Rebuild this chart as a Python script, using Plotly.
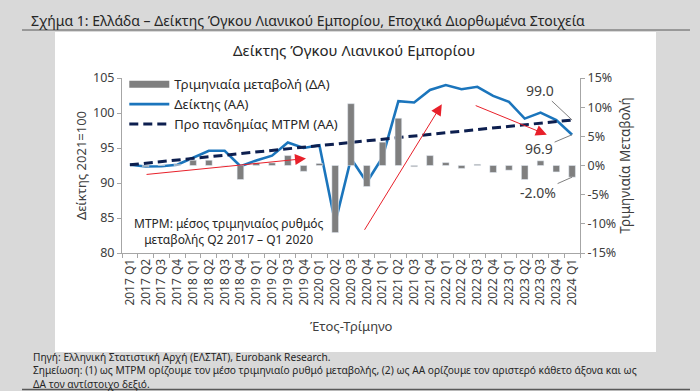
import plotly.graph_objects as go

quarters = ["2017 Q1", "2017 Q2", "2017 Q3", "2017 Q4",
            "2018 Q1", "2018 Q2", "2018 Q3", "2018 Q4",
            "2019 Q1", "2019 Q2", "2019 Q3", "2019 Q4",
            "2020 Q1", "2020 Q2", "2020 Q3", "2020 Q4",
            "2021 Q1", "2021 Q2", "2021 Q3", "2021 Q4",
            "2022 Q1", "2022 Q2", "2022 Q3", "2022 Q4",
            "2023 Q1", "2023 Q2", "2023 Q3", "2023 Q4",
            "2024 Q1"]

index_values = [92.6, 92.35, 92.4, 92.6, 93.6, 94.6, 94.6, 92.4,
                93.2, 93.9, 95.8, 95.0, 95.4, 84.3, 93.5, 90.1,
                93.7, 101.7, 101.5, 103.3, 104.0, 103.4, 103.75, 102.45,
                101.6, 99.2, 100.05, 99.0, 96.9]

qoq_change = [None, -0.2, 0.1, 0.2, 0.9, 0.9, 0.0, -2.4,
              0.45, 0.45, 1.7, -1.0, 0.35, -11.5, 10.6, -3.6,
              4.0, 8.1, -0.2, 1.7, 0.5, -0.5, 0.2, -1.2,
              -0.8, -2.4, 0.8, -1.1, -2.0]

trend_quarters = ["2017 Q1", "2024 Q1"]
trend_values = [92.6, 99.0]

left_ticks = [80, 85, 90, 95, 100, 105]
right_ticks = [-15, -10, -5, 0, 5, 10, 15]
right_tick_text = ["-15%", "-10%", "-5%", "0%", "5%", "10%", "15%"]

footer_lines = [
    "Πηγή: Ελληνική Στατιστική Αρχή (ΕΛΣΤΑΤ), Eurobank Research.",
    "Σημείωση: (1) ως ΜΤΡΜ ορίζουμε τον μέσο τριμηνιαίο ρυθμό μεταβολής, (2) ως ΑΑ ορίζουμε τον αριστερό κάθετο άξονα και ως",
    "ΔΑ τον αντίστοιχο δεξιό.",
]

FONT = "Noto Sans"
TXT = "#404040"
AXC = "#a6a6a6"

fig = go.Figure()

fig.add_trace(go.Bar(x=quarters, y=qoq_change, yaxis="y2", marker_color="#7f7f7f",
                     width=0.42, showlegend=False, name="Τριμηνιαία μεταβολή (ΔΑ)"))
fig.add_trace(go.Scatter(x=[None], y=[None], mode="lines", yaxis="y2",
                         line=dict(color="#7f7f7f", width=7),
                         name="Τριμηνιαία μεταβολή (ΔΑ)"))
fig.add_trace(go.Scatter(x=quarters, y=index_values, mode="lines",
                         line=dict(color="#1b75bc", width=2.6), name="Δείκτης (ΑΑ)"))
fig.add_trace(go.Scatter(x=trend_quarters, y=trend_values, mode="lines",
                         line=dict(color="#0d1f4f", width=3, dash="9px,5px"),
                         name="Προ πανδημίας ΜΤΡΜ (ΑΑ)"))

W, H = 700, 391
L, R, T, B = 122, 120, 78, 138
PW, PH = W - L - R, H - T - B


def px(x):
    return (x - L) / PW


def py(y):
    return (H - B - y) / PH


shapes = [
    dict(type="rect", xref="paper", yref="paper", x0=px(55), x1=px(656), y0=py(352), y1=py(32),
         fillcolor="white", line=dict(width=0), layer="below"),
    dict(type="line", xref="paper", yref="paper", x0=px(22), x1=px(690), y0=py(30), y1=py(30),
         line=dict(color="#595959", width=1)),
    dict(type="line", xref="paper", yref="paper", x0=px(22), x1=px(690), y0=py(389.5), y1=py(389.5),
         line=dict(color="#595959", width=1.5)),
]

annotations = [
    dict(text="Σχήμα 1: Ελλάδα – Δείκτης Όγκου Λιανικού Εμπορίου, Εποχικά Διορθωμένα Στοιχεία",
         xref="paper", yref="paper", x=px(29), y=py(20), xanchor="left", yanchor="middle",
         showarrow=False, font=dict(family=FONT, size=14, color="#262626")),
    dict(text="Δείκτης Όγκου Λιανικού Εμπορίου",
         xref="paper", yref="paper", x=px(354), y=py(50), xanchor="center", yanchor="middle",
         showarrow=False, font=dict(family=FONT, size=15, color="#262626")),
    dict(text="ΜΤΡΜ: μέσος τριμηνιαίος ρυθμός<br>μεταβολής Q2 2017 – Q1 2020",
         xref="paper", yref="paper", x=px(229), y=py(231), xanchor="center", yanchor="middle",
         align="center", showarrow=False, font=dict(family=FONT, size=12, color="#262626")),
    dict(text="Έτος-Τρίμηνο", xref="paper", yref="paper", x=0.5, y=py(326), xanchor="center",
         yanchor="middle", showarrow=False, font=dict(family=FONT, size=13, color=TXT)),
    dict(text="99.0", x=28, y=99.0, xref="x", yref="y", ax=-32, ay=-30, showarrow=True,
         arrowhead=0, arrowwidth=1, arrowcolor="#7f7f7f", standoff=0,
         font=dict(family=FONT, size=14, color=TXT)),
    dict(text="96.9", x=28, y=96.9, xref="x", yref="y", ax=-33, ay=14, showarrow=True,
         arrowhead=0, arrowwidth=1, arrowcolor="#7f7f7f", standoff=0,
         font=dict(family=FONT, size=14, color=TXT)),
    dict(text="-2.0%", x=28, y=-2.0, xref="x", yref="y2", ax=-34, ay=15, showarrow=True,
         arrowhead=0, arrowwidth=1, arrowcolor="#7f7f7f", standoff=0,
         font=dict(family=FONT, size=14, color=TXT)),
    dict(text="<br>".join(footer_lines), xref="paper", yref="paper", x=px(32), y=py(348.5),
         xanchor="left", yanchor="top", align="left", showarrow=False, borderpad=0,
         font=dict(family=FONT, size=10.2, color="#262626")),
]

red_arrows = [((0.96, 91.2), (11.15, 93.5)),
              ((14.8, 83.1), (19.75, 101.25)),
              ((21.8, 101.15), (26.4, 96.9))]
for (sx, sy), (ex, ey) in red_arrows:
    annotations.append(dict(x=ex, y=ey, ax=sx, ay=sy, xref="x", yref="y", axref="x", ayref="y",
                            text="", showarrow=True, arrowhead=2, arrowsize=2.2, arrowwidth=1,
                            arrowcolor="#e8202a"))

fig.update_layout(
    width=W, height=H,
    margin=dict(l=L, r=R, t=T, b=B, pad=0, autoexpand=False),
    paper_bgcolor="#d9d9d9", plot_bgcolor="white",
    font=dict(family=FONT, color=TXT),
    shapes=shapes, annotations=annotations,
    legend=dict(x=0.005, y=1.05, xanchor="left", yanchor="top", bgcolor="rgba(0,0,0,0)",
                font=dict(family=FONT, size=13, color="#262626"), tracegroupgap=0,
                itemwidth=40),
    xaxis=dict(type="category", categoryorder="array", categoryarray=quarters,
               range=[-0.5, 28.5], tickangle=-90, tickson="boundaries", ticks="outside",
               ticklen=4, tickcolor=AXC, showline=True, linecolor=AXC, linewidth=1,
               showgrid=False, zeroline=False, automargin=False,
               tickfont=dict(family=FONT, size=12, color=TXT)),
    yaxis=dict(range=[80, 105], tickvals=left_ticks, showline=True, linecolor=AXC, linewidth=1,
               ticks="outside", ticklen=4, tickcolor=AXC, showgrid=False, zeroline=False,
               automargin=False,
               tickfont=dict(family=FONT, size=12.5, color=TXT),
               title=dict(text="Δείκτης 2021=100", standoff=3,
                          font=dict(family=FONT, size=13, color=TXT))),
    yaxis2=dict(range=[-15, 15], overlaying="y", side="right", tickvals=right_ticks,
                ticktext=right_tick_text, showline=True, linecolor=AXC, linewidth=1,
                ticks="outside", ticklen=4, tickcolor=AXC, showgrid=False, zeroline=False,
                automargin=False,
                tickfont=dict(family=FONT, size=12.5, color=TXT),
                title=dict(text="Τριμηνιαία Μεταβολή", standoff=4,
                           font=dict(family=FONT, size=13.5, color=TXT))),
)

fig.write_html("out.html", config={"displayModeBar": False},
               post_script="document.body.style.margin='0';document.body.style.overflow='hidden';")
